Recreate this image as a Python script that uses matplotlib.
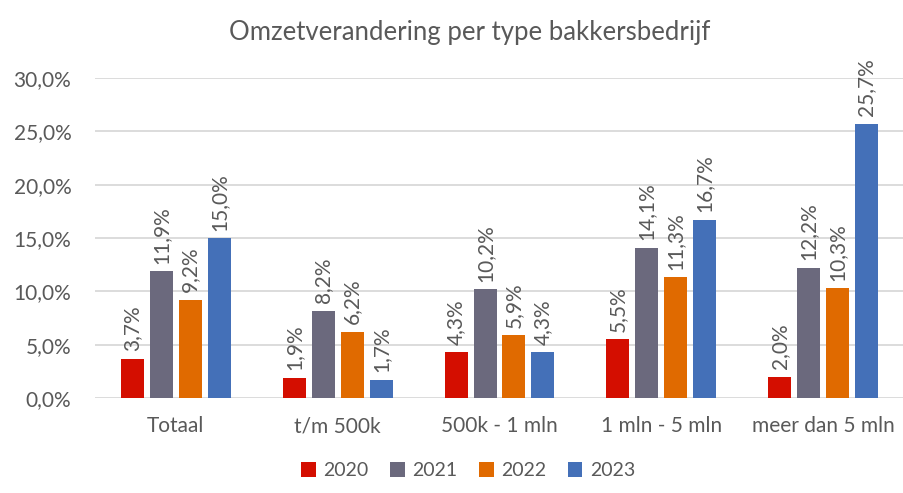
import numpy as np
import matplotlib.pyplot as plt
from matplotlib.ticker import FuncFormatter

plt.rcParams['font.family'] = ['Lato', 'DejaVu Sans']

categories = ['Totaal', 't/m 500k', '500k - 1 mln', '1 mln - 5 mln', 'meer dan 5 mln']
years = ['2020', '2021', '2022', '2023']
v2020 = [3.7, 1.9, 4.3, 5.5, 2.0]
v2021 = [11.9, 8.2, 10.2, 14.1, 12.2]
v2022 = [9.2, 6.2, 5.9, 11.3, 10.3]
v2023 = [15.0, 1.7, 4.3, 16.7, 25.7]
series = [v2020, v2021, v2022, v2023]
colors = ['#D40E00', '#6B697D', '#E06A00', '#4470B8']
text_color = '#595959'

fig = plt.figure(figsize=(9.04, 4.93), dpi=100)
ax = fig.add_axes([95 / 904, 1 - 398 / 493, 809 / 904, 320 / 493])

x = np.arange(len(categories))
width = 0.142
step = 0.179
for i, (vals, col, yr) in enumerate(zip(series, colors, years)):
    pos = x + (i - 1.5) * step
    bars = ax.bar(pos, vals, width, color=col, label=yr, zorder=3)
    for b, v in zip(bars, vals):
        ax.text(b.get_x() + b.get_width() / 2, v + 0.7, f'{v:.1f}%'.replace('.', ','),
                rotation=90, ha='center', va='bottom', fontsize=15, color=text_color)

ax.set_xlim(-0.5, len(categories) - 0.5)
ax.set_ylim(0, 30)
ax.set_yticks(np.arange(0, 31, 5))
ax.yaxis.set_major_formatter(FuncFormatter(lambda v, p: f'{v:.1f}%'.replace('.', ',')))
ax.set_xticks(x)
ax.set_xticklabels(categories)
ax.tick_params(axis='both', length=0, labelsize=15, labelcolor=text_color)
ax.tick_params(axis='y', pad=17)
ax.tick_params(axis='x', pad=13)
ax.grid(axis='y', color='#D9D9D9', linewidth=1.3, zorder=0)
for s in ax.spines.values():
    s.set_visible(False)

fig.text(0.52, 0.935, 'Omzetverandering per type bakkersbedrijf', ha='center', va='center',
         fontsize=18.5, color=text_color)

fig.legend(loc='center', bbox_to_anchor=(0.518, 0.045), ncol=4, frameon=False,
           fontsize=14, labelcolor=text_color, handlelength=0.75, handleheight=0.75,
           handletextpad=0.4, columnspacing=1.1)

fig.savefig('out.png', dpi=100)
